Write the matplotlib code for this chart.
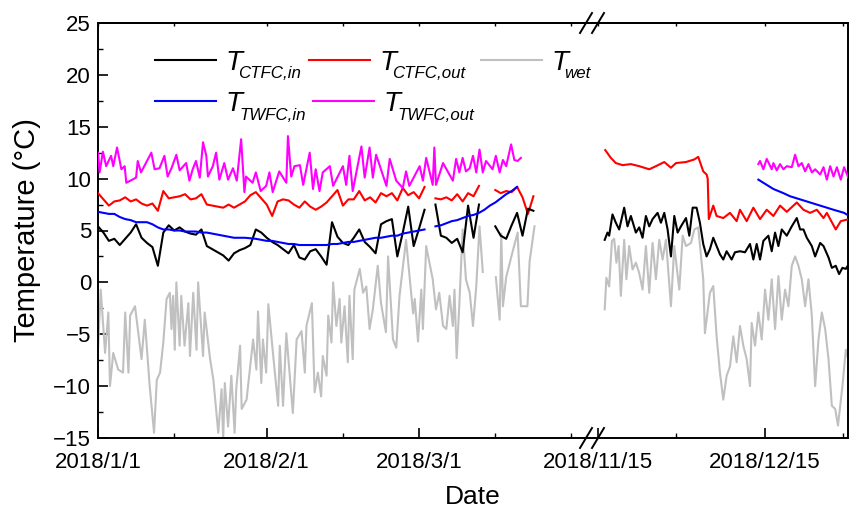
import matplotlib
matplotlib.use("Agg")
import matplotlib.pyplot as plt
import matplotlib.dates as mdates
from matplotlib.lines import Line2D
import numpy as np
from datetime import datetime

plt.rcParams['font.family'] = ['Liberation Sans', 'DejaVu Sans']

nan = np.nan
jan_start = datetime(2018, 1, 1)
nov_start = datetime(2018, 11, 15)

# ---- winter 2018 (days since 2018/1/1) ----
ctfc_in_jan = [5.4, 4.8, 4.0, 4.2, 3.6, 4.2, 4.8, 5.6, 4.3, 3.8,
               3.4, 1.6, 4.8, 5.5, 5.0, 5.3, 4.9, 4.7, 4.6, 5.1,
               3.5, 3.2, 2.9, 2.6, 2.1, 2.8, 3.1, 3.3, 3.6, 5.1,
               4.8, 4.3, 3.9, 3.6, 3.2, 2.8, 3.6, 2.4, 2.2, 3.0,
               3.2, 2.5, 1.7, 5.8, 4.4, 3.8, 3.6, 4.3, 5.1, 3.9,
               3.4, 2.8, 5.6, 5.9, 6.1, 2.5, 4.8, 7.3, 3.5, 5.2,
               7.0, nan, 7.5, 4.5, 4.3, 3.8, 4.2, 2.9, 7.4, 4.3,
               7.5, nan, nan, 5.4, 4.5, 4.2, 5.5, 6.7, 4.5, 7.1,
               6.9]
ctfc_out_jan = [8.6, 8.0, 7.4, 7.8, 7.9, 8.2, 7.8, 8.0, 7.6, 7.4,
                7.6, 6.9, 8.8, 8.1, 8.2, 8.3, 8.5, 8.0, 8.1, 8.5,
                7.5, 7.4, 7.3, 7.2, 7.5, 7.2, 7.5, 7.8, 8.4, 8.7,
                8.1, 7.5, 6.4, 7.8, 8.0, 7.9, 7.5, 7.2, 7.8, 7.3,
                7.0, 7.3, 7.7, 8.3, 8.9, 7.4, 8.0, 8.0, 8.8, 7.9,
                8.2, 7.7, 8.6, 8.3, 8.6, 7.9, 9.1, 8.4, 8.7, 8.1,
                9.2, nan, 8.1, 8.0, 8.2, 7.9, 8.5, 7.8, 8.6, 8.3,
                9.3, nan, nan, 8.9, 8.6, 8.8, 8.7, 9.2, 8.2, 6.6,
                8.3]
twfc_in_jan = [6.8, 6.7, 6.6, 6.6, 6.3, 6.1, 6.0, 5.8, 5.8, 5.8,
               5.6, 5.3, 5.1, 5.1, 5.0, 5.0, 4.9, 4.9, 4.9, 4.8,
               4.8, 4.7, 4.6, 4.5, 4.4, 4.3, 4.3, 4.3, 4.25, 4.2,
               4.1, 4.0, 4.0, 3.9, 3.8, 3.7, 3.7, 3.6, 3.6, 3.6,
               3.6, 3.6, 3.6, 3.7, 3.7, 3.8, 3.9, 3.9, 4.0, 4.1,
               4.2, 4.3, 4.3, 4.4, 4.5, 4.5, 4.7, 4.8, 4.9, 5.0,
               5.1, nan, 5.4, 5.5, 5.7, 5.9, 6.0, 6.2, 6.4, 6.5,
               6.7, 7.0, 7.4, 7.7, 8.1, 8.5, 8.8, 9.2]

twfc_out_jan_t = [0.0, 0.3, 0.9, 1.5, 2.4, 2.8, 3.5, 4.3, 4.9, 5.2,
                  6.3, 7.0, 7.3, 7.9, 9.8, 10.4, 11.3, 12.2, 12.8, 13.5,
                  14.4, 15.0, 16.2, 16.8, 17.4, 18.0, 18.7, 19.3, 19.9, 20.2,
                  21.1, 21.7, 22.3, 23.2, 23.9, 24.8, 25.5, 26.3, 26.9, 27.2,
                  28.4, 29.0, 29.9, 30.9, 31.5, 32.1, 33.3, 34.6, 34.9, 35.5,
                  36.1, 37.1, 37.7, 38.9, 39.5, 40.0, 40.7, 41.3, 42.6, 43.2,
                  45.0, 45.6, 46.2, 46.8, 48.4, 49.0, 49.9, 50.5, 51.1, 53.0,
                  53.6, 54.8, 56.0, 56.6, 57.2, 59.1, 59.7, 60.3, 61.5, 61.8,
                  62.1, 63.4, 65.2, 65.8, 66.4, 67.0, 67.6, 68.3, 68.9, 69.5,
                  70.1, 70.7, 71.3, 72.5, 73.1, 73.8, 74.4, 75.0, 75.9, 76.5,
                  77.1, 77.7]
twfc_out_jan = [12.5, 10.6, 12.6, 11.2, 12.2, 11.2, 13.0, 10.9, 11.2, 9.6,
                9.9, 10.1, 11.7, 10.6, 12.5, 10.9, 11.0, 12.2, 10.2, 11.0,
                12.3, 10.8, 11.5, 9.8, 10.9, 11.7, 10.1, 13.5, 12.2, 10.2,
                11.2, 12.5, 9.9, 11.5, 9.9, 11.0, 9.8, 13.8, 8.7, 10.2,
                9.6, 10.6, 8.8, 9.3, 10.6, 8.7, 10.7, 9.6, 14.1, 10.2,
                11.2, 11.3, 9.4, 12.5, 9.0, 10.9, 8.8, 10.6, 11.2, 9.3,
                11.2, 9.4, 12.2, 8.8, 13.1, 10.1, 13.0, 10.1, 12.3, 9.3,
                11.9, 9.8, 9.1, 10.7, 9.3, 11.2, 9.8, 12.0, 9.4, 13.0,
                9.4, 11.5, 9.8, 11.9, 10.6, 12.0, 10.7, 11.0, 12.2, 10.6,
                12.8, 10.6, 11.7, 10.9, 12.2, 10.6, 11.8, 11.2, 13.3, 11.8,
                11.7, 12.0]

wet_jan_t = [0.0, 0.5, 1.3, 1.9, 2.2, 2.8, 3.7, 4.6, 5.0, 5.6,
             5.9, 6.8, 8.0, 8.6, 9.5, 10.3, 10.8, 11.4, 12.0, 12.6,
             13.2, 13.5, 13.8, 14.1, 14.4, 15.0, 15.3, 15.9, 16.6, 16.9,
             17.5, 18.1, 18.4, 19.3, 19.6, 20.6, 21.2, 22.1, 22.7, 23.0,
             23.3, 23.9, 24.5, 25.1, 25.4, 26.1, 26.4, 27.3, 27.9, 28.5,
             29.1, 29.4, 30.0, 30.3, 30.9, 31.3, 32.2, 33.1, 33.4, 34.0,
             34.6, 35.8, 36.5, 37.4, 38.0, 38.3, 39.3, 39.8, 40.4, 41.0,
             41.3, 42.0, 42.3, 42.9, 43.2, 43.8, 44.4, 44.7, 45.3, 45.9,
             46.2, 46.8, 47.1, 48.1, 48.7, 49.3, 49.9, 50.5, 51.4, 52.0,
             52.9, 53.3, 54.2, 54.8, 55.4, 56.6, 57.9, 58.2, 58.8, 59.4,
             59.7, 60.3, 61.5, 62.1, 62.7, 63.4, 64.0, 64.6, 65.2, 65.5,
             65.9, 66.4, 67.0, 67.6, 68.3, 68.9, 69.5, 70.1, 70.7, 71.9,
             73.1, 73.8, 74.1, 74.4, 75.0, 76.2, 77.1, 77.7, 78.9, 79.3,
             80.2]
wet_jan = [-6.5, -0.7, -6.8, -2.9, -10.0, -6.8, -8.4, -8.7, -2.9, -8.7,
           -3.2, -2.3, -7.4, -3.6, -10.0, -14.5, -9.4, -8.7, -5.8, -1.6,
           -1.0, -4.5, -1.3, -6.5, 0.0, -6.1, -1.3, -6.1, -2.0, -7.1,
           -1.0, -6.5, 0.0, -7.1, -2.9, -7.4, -9.4, -14.5, -10.3, -15.1,
           -9.7, -13.9, -9.0, -14.5, -10.3, -6.1, -12.2, -11.3, -8.4, -5.5,
           -8.4, -2.8, -9.7, -5.5, -8.7, -2.1, -7.1, -11.9, -6.1, -11.9,
           -4.9, -12.6, -5.5, -4.7, -8.7, -4.2, -2.0, -10.6, -8.7, -11.0,
           -7.1, -9.0, -3.2, -5.8, 0.0, -4.2, -1.6, -5.8, -2.3, -7.7,
           -1.3, -7.4, -0.7, 1.3, -1.0, -0.4, -4.5, -2.6, 1.6, -2.0,
           -4.8, 2.5, -5.5, -6.3, -1.3, 4.1, -3.0, -1.6, -5.7, -0.7,
           -4.5, 3.5, 0.3, -2.6, -1.0, -4.2, -4.5, -1.3, -4.2, -0.7,
           -7.3, -2.0, 5.1, 0.3, -1.0, -4.2, -0.4, 5.4, 1.0, nan,
           0.5, -3.6, 4.7, -2.3, 0.5, 3.0, 4.8, -2.3, -2.3, 2.0,
           5.4]

# ---- winter 2018/19 (days since 2018/11/15) ----
ctfc_in_nov_t = [1.2, 1.7, 2.0, 2.6, 3.2, 3.8, 4.7, 5.3, 5.9, 6.8,
                 7.4, 8.0, 8.6, 9.2, 9.8, 10.7, 11.3, 11.9, 12.5, 13.1,
                 13.7, 14.3, 14.9, 15.8, 16.4, 17.0, 17.7, 18.3, 18.9, 19.5,
                 20.1, 20.7, 21.3, 21.9, 22.5, 23.1, 24.0, 24.6, 25.5, 26.4,
                 27.3, 27.9, 28.5, 29.1, 29.7, 30.6, 31.2, 31.8, 32.4, 33.0,
                 33.9, 34.8, 35.7, 36.3, 36.9, 37.5, 38.4, 39.0, 39.9, 40.5,
                 41.4, 42.0, 42.7, 43.3, 43.9, 44.5, 45.1]
ctfc_in_nov = [4.1, 4.8, 4.5, 6.55, 5.75, 5.1, 7.2, 5.4, 6.4, 4.8,
               5.3, 4.3, 6.4, 5.4, 6.1, 6.7, 5.75, 6.7, 5.1, 2.5,
               6.4, 4.8, 5.4, 6.2, 4.5, 7.2, 7.2, 5.75, 3.7, 2.5,
               3.2, 4.3, 3.5, 2.7, 2.2, 3.0, 2.2, 2.9, 3.0, 2.9,
               3.7, 2.2, 3.7, 2.2, 4.0, 4.5, 3.0, 4.8, 3.5, 5.1,
               4.5, 5.4, 6.2, 5.1, 5.1, 4.3, 3.5, 2.5, 3.8, 3.5,
               2.4, 1.4, 1.6, 0.8, 1.4, 1.3, 1.8]

ctfc_out_nov_t = [1.3, 2.3, 3.2, 4.4, 5.9, 7.4, 9.2, 10.4, 11.9, 13.1,
                  14.0, 15.8, 17.3, 18.0, 18.9, 19.5, 19.7, 19.9, 20.7, 21.3,
                  22.5, 23.7, 24.9, 25.5, 26.7, 27.9, 29.1, 30.3, 31.5, 32.7,
                  33.9, 35.7, 36.9, 38.1, 39.3, 40.5, 41.1, 42.7, 43.6, 45.1]
ctfc_out_nov = [12.75, 12.0, 11.5, 11.3, 11.4, 11.2, 10.9, 11.2, 11.6, 11.05,
                11.5, 11.6, 11.85, 12.1, 10.7, 10.4, 10.0, 6.1, 7.4, 6.4,
                6.2, 6.7, 5.9, 7.0, 5.9, 7.2, 6.1, 7.0, 6.4, 7.4,
                6.8, 7.7, 7.0, 6.7, 7.0, 6.2, 6.7, 5.1, 5.9, 6.1]

wet_nov_t = [1.2, 1.5, 2.0, 2.5, 2.9, 3.3, 3.7, 4.1, 4.7, 5.1,
             5.6, 6.2, 6.8, 7.4, 8.0, 8.6, 9.2, 9.8, 10.4, 11.0,
             11.6, 12.2, 13.1, 13.7, 14.6, 15.2, 15.8, 16.7, 17.3, 18.0,
             18.9, 19.2, 20.1, 20.7, 21.3, 21.9, 22.5, 23.1, 23.7, 24.3,
             24.9, 25.5, 26.1, 26.7, 27.3, 27.6, 28.2, 28.8, 29.4, 30.0,
             30.6, 31.2, 31.8, 32.4, 33.0, 33.6, 34.2, 34.8, 35.4, 36.0,
             36.6, 37.2, 37.8, 38.4, 39.0, 39.6, 40.2, 40.8, 41.4, 42.0,
             42.6, 43.1, 43.9, 44.5, 45.1]
wet_nov = [-2.6, 0.45, -0.4, 4.0, 4.2, 1.9, 3.5, -1.3, 4.1, 0.3,
           3.5, 1.25, 1.9, 0.9, -0.7, 3.5, -1.0, 3.8, 0.3, 4.1,
           2.2, 4.1, -2.3, 3.5, -0.7, 4.5, 3.5, 3.8, 5.1, 5.3,
           0.3, -4.9, -1.0, -0.35, -5.2, -8.7, -11.3, -9.0, -8.1, -5.2,
           -7.7, -4.2, -6.1, -7.4, -10.0, -3.9, -6.1, -2.9, -5.5, -0.7,
           -3.6, 0.3, -4.5, 0.6, -3.6, -0.7, -2.3, 1.6, 2.5, 1.6,
           0.3, -2.3, 0.3, -3.2, -10.0, -5.5, -2.9, -4.5, -7.4, -11.9,
           -12.2, -13.8, -10.0, -6.5, -7.7]

twfc_in_nov_t = [28.8, 30.0, 31.5, 33.3, 34.5, 36.3, 39.3, 42.3, 44.2, 45.1]
twfc_in_nov = [9.9, 9.5, 9.0, 8.6, 8.3, 8.0, 7.5, 7.0, 6.7, 6.4]

twfc_out_nov_t = [28.8, 29.1, 29.7, 30.3, 31.2, 31.5, 32.1, 32.7, 33.3, 33.9,
                  34.8, 35.4, 36.0, 36.6, 37.2, 37.8, 38.4, 39.0, 39.9, 40.5,
                  41.1, 41.7, 42.3, 42.9, 43.6, 44.2, 45.1]
twfc_out_nov = [11.4, 11.7, 10.9, 11.9, 10.9, 11.5, 10.8, 11.4, 10.9, 11.2,
                11.1, 12.3, 11.2, 11.5, 10.7, 11.4, 10.6, 10.9, 10.4, 11.1,
                9.9, 11.2, 10.2, 11.1, 9.9, 11.1, 9.9]

# legend: symbol T with subscripts
subscripts = ['CTFC,in', 'CTFC,out', 'wet', 'TWFC,in', 'TWFC,out']
colors = ['black', 'red', '#c0c0c0', 'blue', '#ff00ff']


def tx(start, t):
    return mdates.date2num(start) + np.asarray(t, dtype=float)


W, H = 849, 508
fx = lambda px: px / W
fy = lambda py: 1 - py / H

fig = plt.figure(figsize=(W / 100, H / 100), dpi=100)
x0, xb, x1 = 98, 590, 848
yb, yt = 438, 23
ax1 = fig.add_axes([fx(x0), fy(yb), (xb - x0) / W, (yb - yt) / H])
ax2 = fig.add_axes([fx(xb), fy(yb), (x1 - xb) / W, (yb - yt) / H], sharey=ax1)

lw = 1.5
# left part
ax1.plot(tx(jan_start, np.arange(len(ctfc_in_jan))), ctfc_in_jan, color=colors[0], lw=lw, zorder=4)
ax1.plot(tx(jan_start, np.arange(len(ctfc_out_jan))), ctfc_out_jan, color=colors[1], lw=lw, zorder=3)
ax1.plot(tx(jan_start, wet_jan_t), wet_jan, color=colors[2], lw=lw, zorder=2)
ax1.plot(tx(jan_start, np.arange(len(twfc_in_jan))), twfc_in_jan, color=colors[3], lw=lw, zorder=5)
ax1.plot(tx(jan_start, twfc_out_jan_t), twfc_out_jan, color=colors[4], lw=lw, zorder=3)
# right part
ax2.plot(tx(nov_start, ctfc_in_nov_t), ctfc_in_nov, color=colors[0], lw=lw, zorder=4)
ax2.plot(tx(nov_start, ctfc_out_nov_t), ctfc_out_nov, color=colors[1], lw=lw, zorder=3)
ax2.plot(tx(nov_start, wet_nov_t), wet_nov, color=colors[2], lw=lw, zorder=2)
ax2.plot(tx(nov_start, twfc_in_nov_t), twfc_in_nov, color=colors[3], lw=lw, zorder=5)
ax2.plot(tx(nov_start, twfc_out_nov_t), twfc_out_nov, color=colors[4], lw=lw, zorder=3)

ax1.set_ylim(-15, 25)
ax1.set_yticks(np.arange(-15, 26, 5))
ax1.set_yticks(np.arange(-12.5, 25, 5), minor=True)
ax1.set_xlim(tx(jan_start, 0), tx(jan_start, 90.4))
ax2.set_xlim(tx(nov_start, -1.44), tx(nov_start, 44.9))

left_major = [mdates.date2num(datetime(2018, m, 1)) for m in (1, 2, 3)]
left_minor = [mdates.date2num(datetime(2018, m, d)) for m, d in ((1, 15), (2, 15), (3, 15), (3, 29))]
right_major = [mdates.date2num(datetime(2018, m, 15)) for m in (11, 12)]
right_minor = [mdates.date2num(datetime(2018, m, d)) for m, d in ((11, 29), (12, 29))]
ax1.set_xticks(left_major)
ax1.set_xticks(left_minor, minor=True)
ax2.set_xticks(right_major)
ax2.set_xticks(right_minor, minor=True)

fmt = plt.FuncFormatter(lambda v, p: (lambda d: f"{d.year}/{d.month}/{d.day}")(mdates.num2date(v)))
for ax, maj, mnr in ((ax1, left_major, left_minor), (ax2, right_major, right_minor)):
    ax.xaxis.set_major_formatter(fmt)
    ax.tick_params(which='major', direction='in', length=7, width=1.2, labelsize=16, pad=10)
    ax.tick_params(which='minor', direction='in', length=3.5, width=1.0)
    for s in ax.spines.values():
        s.set_linewidth(1.4)
    top = ax.secondary_xaxis('top')
    top.set_xticks(maj + mnr)
    top.tick_params(direction='in', length=2.5, width=1.0, labeltop=False)
    top.spines['top'].set_linewidth(1.4)

ax1.tick_params(axis='y', which='major', labelsize=16, pad=5)
ax1.spines['right'].set_visible(False)
ax2.spines['left'].set_visible(False)
ax2.tick_params(axis='y', which='both', left=False, labelleft=False)

ax1.set_ylabel('Temperature (°C)', fontsize=21, labelpad=9)
fig.text(fx((x0 + x1) / 2), fy(497), 'Date', fontsize=19, ha='center', va='center')

# axis-break marks
for yc in (yt, yb):
    for xc in (586, 598):
        fig.add_artist(Line2D([fx(xc - 6), fx(xc + 6)], [fy(yc + 10), fy(yc - 10)],
                              color='black', lw=1.4, transform=fig.transFigure))

# legend, drawn entry by entry (line, italic T, smaller italic subscript)
legend_pos = [(155, 60), (309, 60), (481, 60), (155, 101), (313, 101)]
for (hx, hy), c, sub in zip(legend_pos, colors, subscripts):
    fig.add_artist(Line2D([fx(hx), fx(hx + 61)], [fy(hy), fy(hy)], color=c, lw=lw,
                          transform=fig.transFigure))
    tx0 = hx + 70 + (1 if hy > 80 else 0)
    fig.text(fx(tx0), fy(hy + 10), 'T', fontsize=20, style='italic', va='baseline', ha='left')
    fig.text(fx(tx0 + 13), fy(hy + 18.5), sub, fontsize=12.2, style='italic',
             va='baseline', ha='left')

fig.savefig('out.png', dpi=100)
